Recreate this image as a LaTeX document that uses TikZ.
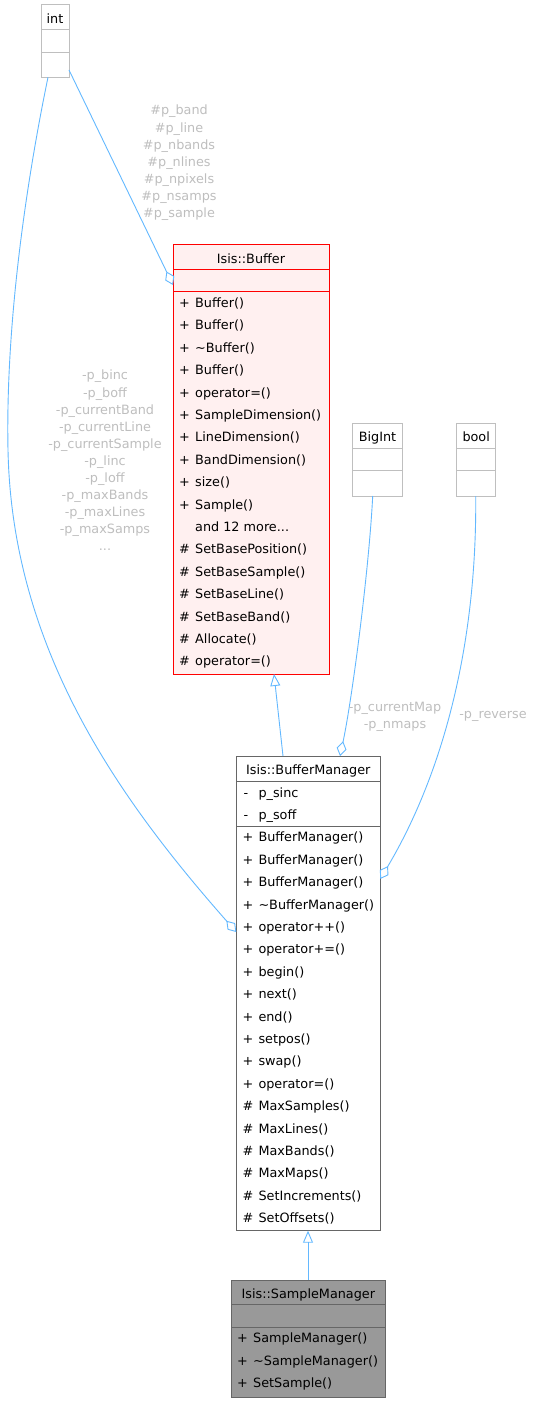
\documentclass[tikz,border=0pt]{standalone}
\usepackage{fontspec}
\setmainfont{DejaVu Sans}
\usetikzlibrary{arrows.meta,calc}
\definecolor{edgeblue}{HTML}{63B8FF}
\definecolor{lblgray}{HTML}{BEBEBE}
\definecolor{typegray}{HTML}{BFBFBF}
\definecolor{bufred}{HTML}{FF0000}
\definecolor{buffill}{HTML}{FFF0F0}
\definecolor{dkgray}{HTML}{666666}
\definecolor{smfill}{HTML}{999999}
\newcommand\threedots{...}
\tikzset{
  box/.style={rectangle, inner sep=0pt, outer sep=0pt, anchor=north west, line width=1pt},
  typebox/.style={box, draw=typegray, fill=white},
  bufbox/.style={box, draw=bufred, fill=buffill},
  bmbox/.style={box, draw=dkgray, fill=white},
  smbox/.style={box, draw=dkgray, fill=smfill},
  title/.style={inner sep=0pt, anchor=base, font=\fontsize{12.8}{15}\selectfont},
  sym/.style={inner sep=0pt, anchor=base west, font=\fontsize{12.8}{15}\selectfont},
  lbl/.style={inner sep=0pt, anchor=north, align=center, text=lblgray, font=\fontsize{12.8}{17.1}\selectfont},
  assoc/.style={draw=edgeblue, line width=0.9pt, -{Diamond[open,length=15pt,width=10pt]}},
  inherit/.style={draw=edgeblue, line width=0.9pt, -{Triangle[open,length=12pt,width=10pt]}},
}
\newcommand\sepline[3]{\draw[#3, line width=1pt] ($(#1.north west)+(0,#2)$) -- ($(#1.north east)+(0,#2)$);}
\newcommand\memrows[3]{%
  \foreach \s/\t [count=\i from 0] in {#3}{%
    \node[sym] (#1-s\i) at ($(#1.north west)+(6,{#2+22.4*\i})$) {\s};
    \node[sym] (#1-m\i) at ($(#1.north west)+(22,{#2+22.4*\i})$) {\t};
  }}
\begin{document}
\begin{tikzpicture}[x=1pt,y=-1pt]
\useasboundingbox (0,0) rectangle (533,1402);

% type boxes
\node[typebox, minimum width=28pt, minimum height=72.3pt] (int) at (41,5) {};
\sepline{int}{25}{typegray}\sepline{int}{47.4}{typegray}
\node[title] (int-t) at ($(int.north)+(0,18.5)$) {int};

\node[typebox, minimum width=49.6pt, minimum height=72.7pt] (bigint) at (352.7,423.3) {};
\sepline{bigint}{25}{typegray}\sepline{bigint}{47.4}{typegray}
\node[title] (bigint-t) at ($(bigint.north)+(0,18.5)$) {BigInt};

\node[typebox, minimum width=39pt, minimum height=72.7pt] (bool) at (456.7,423.3) {};
\sepline{bool}{25}{typegray}\sepline{bool}{47.4}{typegray}
\node[title] (bool-t) at ($(bool.north)+(0,18.5)$) {bool};

% Isis::Buffer
\node[bufbox, minimum width=156pt, minimum height=429.5pt] (buf) at (173,244.5) {};
\sepline{buf}{25}{bufred}\sepline{buf}{47.4}{bufred}
\node[title] (buf-t) at ($(buf.north)+(0,18.5)$) {Isis::Buffer};
\memrows{buf}{63}{+/Buffer(), +/Buffer(), +/\textasciitilde Buffer(), +/Buffer(), +/operator=(),
  +/SampleDimension(), +/LineDimension(), +/BandDimension(), +/size(), +/Sample(),
  {}/and 12 more\threedots, \#/SetBasePosition(), \#/SetBaseSample(), \#/SetBaseLine(),
  \#/SetBaseBand(), \#/Allocate(), \#/operator=()}

% Isis::BufferManager
\node[bmbox, minimum width=144pt, minimum height=474.7pt] (bm) at (236.3,756) {};
\sepline{bm}{25.7}{dkgray}\sepline{bm}{70}{dkgray}
\node[title] (bm-t) at ($(bm.north)+(0,18.5)$) {Isis::BufferManager};
\foreach \s/\t [count=\i from 0] in {-/p\_sinc, -/p\_soff}{
  \node[sym] (bm-a\i) at ($(bm.north west)+(7,{41.4+22.4*\i})$) {\s};
  \node[sym] (bm-b\i) at ($(bm.north west)+(22,{41.4+22.4*\i})$) {\t};
}
\memrows{bm}{85.9}{+/BufferManager(), +/BufferManager(), +/BufferManager(), +/\textasciitilde BufferManager(),
  +/operator++(), +/operator+=(), +/begin(), +/next(), +/end(), +/setpos(), +/swap(), +/operator=(),
  \#/MaxSamples(), \#/MaxLines(), \#/MaxBands(), \#/MaxMaps(), \#/SetIncrements(), \#/SetOffsets()}

% Isis::SampleManager
\node[smbox, minimum width=154.7pt, minimum height=117.3pt] (sm) at (231,1280) {};
\sepline{sm}{24}{dkgray}\sepline{sm}{47.3}{dkgray}
\node[title] (sm-t) at ($(sm.north)+(0,18.5)$) {Isis::SampleManager};
\memrows{sm}{62.8}{+/SampleManager(), +/\textasciitilde SampleManager(), +/SetSample()}

% connectors
\draw[assoc] ($(int.north east)+(0,65)$) -- ($(buf.north west)+(0,40.5)$);
\draw[assoc] ($(int.south west)+(7,0)$) .. controls (35,140) and (5,300) .. (8,450)
  .. controls (12,650) and (120,800) .. ($(bm.north west)+(0,176)$);
\draw[inherit] ($(bm.north west)+(46.7,0)$) -- ($(buf.south west)+(101,0)$);
\draw[assoc] ($(bigint.south west)+(20,0)$) .. controls (369,570) and (352,700) .. ($(bm.north west)+(103.7,0)$);
\draw[assoc] ($(bool.south west)+(19,0)$) .. controls (477,640) and (445,770) .. ($(bm.north east)+(0,123)$);
\draw[inherit] ($(sm.north west)+(77,0)$) -- ($(bm.south west)+(71.7,0)$);

% labels
\node[lbl] (lbl-buf) at (179,105) {\#p\_band\\\#p\_line\\\#p\_nbands\\\#p\_nlines\\\#p\_npixels\\\#p\_nsamps\\\#p\_sample};
\node[lbl] (lbl-bm) at (105,370) {-p\_binc\\-p\_boff\\-p\_currentBand\\-p\_currentLine\\-p\_currentSample\\-p\_linc\\-p\_loff\\-p\_maxBands\\-p\_maxLines\\-p\_maxSamps\\\threedots};
\node[lbl] (lbl-bigint) at (395,702) {-p\_currentMap\\-p\_nmaps};
\node[lbl] (lbl-bool) at (493,711) {-p\_reverse};
\end{tikzpicture}
\end{document}
